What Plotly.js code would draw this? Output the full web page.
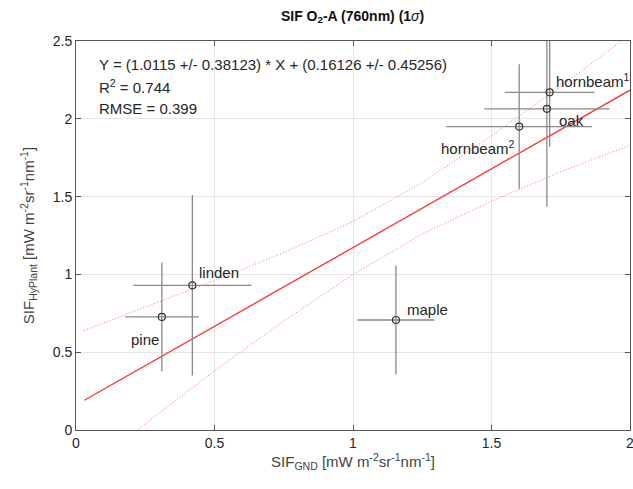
<!DOCTYPE html>
<html><head><meta charset="utf-8">
<script src="https://cdn.plot.ly/plotly-3.0.1.min.js"></script>
<style>html,body{margin:0;padding:0;background:#fff;overflow:hidden}#plot{width:633px;height:489px}</style>
</head><body><div id="plot"></div>
<script>
// Data
const names   = ['pine', 'linden', 'maple', 'hornbeam<sup>1</sup>', 'oak', 'hornbeam<sup>2</sup>'];
const sifGnd  = [0.31, 0.42, 1.155, 1.71, 1.70, 1.60];
const sifHyP  = [0.727, 0.93, 0.707, 2.17, 2.064, 1.95];
const errX    = [0.133, 0.213, 0.139, 0.162, 0.226, 0.263];
const errY    = [0.35, 0.58, 0.35, 0.35, 0.63, 0.40];
const labelDx = [-17, 27, 32, 43, 25, -41];
const labelDy = [-23, 13, 10, 12, -12, -21];

const fitX    = [0.03, 2.0];
const fitY    = [0.191, 2.184];
const bandX   = [0.03, 0.25, 0.5, 0.75, 1.0, 1.25, 1.5, 1.75, 2.0];
const bandUp  = [0.64, 0.79, 0.96, 1.14, 1.34, 1.59, 1.89, 2.21, 2.54];
const bandLo  = [-0.26, 0.04, 0.38, 0.70, 1.00, 1.26, 1.47, 1.66, 1.83];

const xTicks  = [0, 0.5, 1, 1.5, 2];
const yTicks  = [0, 0.5, 1, 1.5, 2, 2.5];

const font = 'Liberation Sans, Arial, sans-serif';
const red = '#ff3030';
const txt = '#262626';

const traces = [
  {x: bandX, y: bandUp, mode: 'lines', line: {color: 'rgba(255,60,60,0.75)', width: 1, dash: '1px,2px'}, hoverinfo: 'skip'},
  {x: bandX, y: bandLo, mode: 'lines', line: {color: 'rgba(255,60,60,0.75)', width: 1, dash: '1px,2px'}, hoverinfo: 'skip'},
  {x: fitX, y: fitY, mode: 'lines', line: {color: red, width: 1.3}},
  {x: sifGnd, y: sifHyP, mode: 'markers',
   marker: {symbol: 'circle-open', size: 7, color: '#333', line: {width: 1.2, color: '#333'}},
   error_x: {type: 'data', array: errX, visible: true, color: '#888', thickness: 1.3, width: 0},
   error_y: {type: 'data', array: errY, visible: true, color: '#888', thickness: 1.3, width: 0}}
];

const annotations = [
  {xref: 'paper', yref: 'paper', x: 0.038, y: 0.94, xanchor: 'left', yanchor: 'middle', showarrow: false,
   text: 'Y = (1.0115 +/- 0.38123) * X + (0.16126 +/- 0.45256)', font: {family: font, size: 15, color: txt}},
  {xref: 'paper', yref: 'paper', x: 0.038, y: 0.882, xanchor: 'left', yanchor: 'middle', showarrow: false,
   text: 'R<sup>2</sup> = 0.744', font: {family: font, size: 15, color: txt}},
  {xref: 'paper', yref: 'paper', x: 0.038, y: 0.826, xanchor: 'left', yanchor: 'middle', showarrow: false,
   text: 'RMSE = 0.399', font: {family: font, size: 15, color: txt}}
];
names.forEach((n, i) => annotations.push({
  x: sifGnd[i], y: sifHyP[i], xshift: labelDx[i], yshift: labelDy[i], showarrow: false,
  text: n, font: {family: font, size: 15, color: txt}
}));

const axisBase = {
  showline: true, mirror: 'ticks', linecolor: '#555', linewidth: 1,
  ticks: 'inside', ticklen: 5, tickcolor: '#555', showgrid: true, gridcolor: '#e6e6e6',
  zeroline: false, tickfont: {family: font, size: 14, color: txt}, ticklabeloverflow: 'allow'
};

const layout = {
  width: 633, height: 489, showlegend: false,
  margin: {l: 76, r: 3, t: 41, b: 59},
  paper_bgcolor: '#fff', plot_bgcolor: '#fff',
  title: {text: '<b>SIF O<sub>2</sub>-A (760nm) (1</b><i>σ</i><b>)</b>', x: 0.557, xanchor: 'center', y: 0.978, yanchor: 'top',
          font: {family: font, size: 14, color: '#111'}},
  xaxis: Object.assign({}, axisBase, {range: [0, 2], tickvals: xTicks, ticktext: xTicks.map(String),
    title: {text: 'SIF<sub>GND</sub> [mW m<sup>-2</sup>sr<sup>-1</sup>nm<sup>-1</sup>]', standoff: 6,
            font: {family: font, size: 15, color: '#444'}}}),
  yaxis: Object.assign({}, axisBase, {range: [0, 2.5], tickvals: yTicks, ticktext: yTicks.map(String),
    title: {text: 'SIF<sub>HyPlant</sub> [mW m<sup>-2</sup>sr<sup>-1</sup>nm<sup>-1</sup>]', standoff: 14,
            font: {family: font, size: 15, color: '#444'}}}),
  annotations: annotations
};

Plotly.newPlot('plot', traces, layout, {staticPlot: true, displayModeBar: false});
</script></body></html>
